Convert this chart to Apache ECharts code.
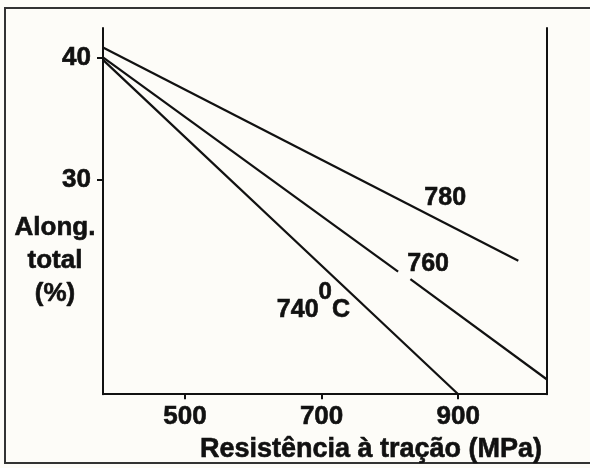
<!DOCTYPE html>
<html>
<head>
<meta charset="utf-8">
<title>Alongamento x Resistência à tração</title>
<script src="https://cdn.jsdelivr.net/npm/echarts/dist/echarts.min.js"></script>
<style>
	html, body {margin:0; padding:0; background:#fdfcf8;}
	#grafico {width:590px; height:468px;}
</style>
</head>
<body>
<div id="grafico"></div>
<script>
// curvas [resistencia (MPa), alongamento total (%)]
var curva780 = [[380, 40.8], [988, 23.4]];
var curva760a = [[380, 40.0], [812, 22.5]];   // a linha 760 tem um corte perto do texto
var curva760b = [[830, 21.9], [1030, 13.7]];
var curva740 = [[380, 39.8], [900, 12.5]];

var ticksX = [500, 700, 900];
var ticksY = [30, 40];

var fonte = '"Liberation Sans", Arial, sans-serif';

var myChart = echarts.init(document.getElementById('grafico'));

function linha(dados, texto, coord) {
	var s = {
		type: 'line',
		data: dados,
		symbol: 'none',
		silent: true,
		lineStyle: {color: '#111', width: 2.2}
	};
	if (texto) {
		s.markPoint = {
			symbol: 'circle',
			symbolSize: 0,
			silent: true,
			data: [{coord: coord}],
			label: {
				show: true,
				position: 'inside',
				formatter: texto,
				color: '#111',
				fontFamily: fonte,
				fontWeight: 'bold',
				fontSize: 25,
				textBorderColor: '#111',
				textBorderWidth: 0.6,
				rich: {
					s: {fontFamily: fonte, fontWeight: 'bold', fontSize: 24, color: '#111', textBorderColor: '#111', textBorderWidth: 0.6, padding: [0, 0, 34, 0]}
				}
			}
		};
	}
	return s;
}

var option = {
	backgroundColor: '#fdfcf8',
	animation: false,
	grid: {left: 103, right: 43, top: 28, bottom: 73},
	xAxis: {
		type: 'value',
		min: 380,
		max: 1030,
		name: 'Resistência à tração (MPa)',
		nameLocation: 'middle',
		nameGap: 39,
		nameTextStyle: {color: '#111', fontFamily: fonte, fontWeight: 'bold', fontSize: 27, textBorderColor: '#111', textBorderWidth: 0.6, padding: [0, 0, 0, 92]},
		axisLine: {show: true, lineStyle: {color: '#111', width: 2}},
		axisTick: {show: true, length: 5, customValues: ticksX, lineStyle: {color: '#111', width: 2}},
		axisLabel: {customValues: ticksX, margin: 10, color: '#111', fontFamily: fonte, fontWeight: 'bold', fontSize: 26, textBorderColor: '#111', textBorderWidth: 0.6},
		splitLine: {show: false}
	},
	yAxis: [
		{
			type: 'value',
			min: 12.5,
			max: 42.4,
			axisLine: {show: true, lineStyle: {color: '#111', width: 2}},
			axisTick: {show: true, length: 6, customValues: ticksY, lineStyle: {color: '#111', width: 2}},
			axisLabel: {customValues: ticksY, margin: 12, color: '#111', fontFamily: fonte, fontWeight: 'bold', fontSize: 26, textBorderColor: '#111', textBorderWidth: 0.6},
			splitLine: {show: false}
		},
		{
			type: 'value',
			position: 'right',
			min: 12.5,
			max: 42.4,
			axisLine: {show: true, lineStyle: {color: '#111', width: 2}},
			axisTick: {show: false},
			axisLabel: {show: false},
			splitLine: {show: false}
		}
	],
	graphic: [
		{
			type: 'rect',
			shape: {x: 5, y: 8, width: 620, height: 455},
			style: {fill: null, stroke: '#333', lineWidth: 2},
			silent: true
		},
		{
			type: 'text',
			x: 55,
			y: 211,
			style: {
				text: 'Along.\ntotal\n(%)',
				textAlign: 'center',
				textVerticalAlign: 'top',
				lineHeight: 33,
				fill: '#111',
				stroke: '#111',
				lineWidth: 0.6,
				font: 'bold 26px ' + fonte
			},
			silent: true
		}
	],
	series: [
		linha(curva780, '780', [881, 28.5]),
		linha(curva760a, '760', [856, 23.1]),
		linha(curva760b),
		linha(curva740, '740{s|0}C', [688, 19.4])
	]
};

myChart.setOption(option);
</script>
</body>
</html>
